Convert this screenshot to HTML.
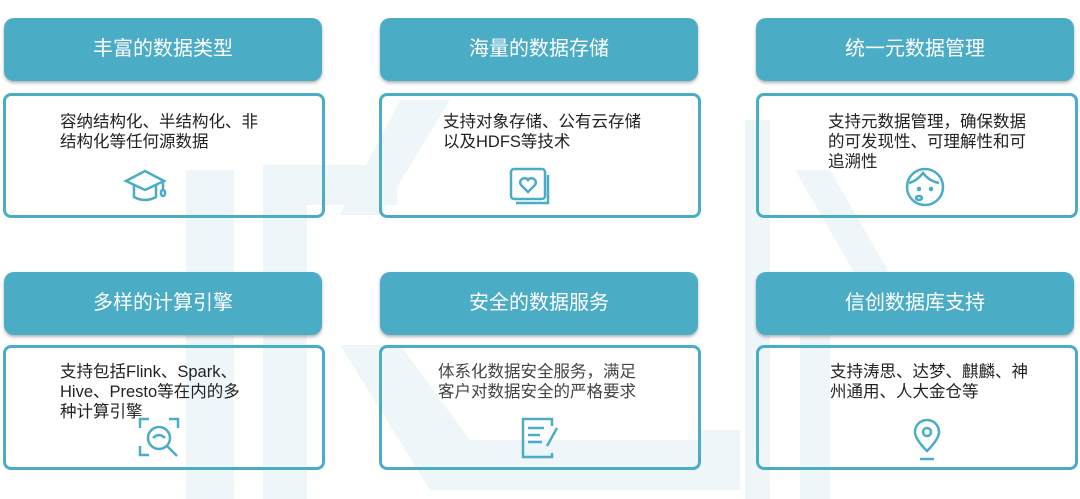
<!DOCTYPE html>
<html><head><meta charset="utf-8"><style>
body{margin:0;width:1080px;height:499px;background:#fff;position:relative;overflow:hidden;font-family:"Liberation Sans","Noto Sans CJK SC",sans-serif}
.wm{position:absolute;background:#eef6fa}
.h{position:absolute;width:318px;height:63px;background:#4BACC6;border-radius:10px;box-shadow:0 2px 3px rgba(0,0,0,.3);color:#fff;font-size:20px;text-align:center;line-height:63px}
.b{position:absolute;width:316px;height:119px;border:3px solid #4BACC6;border-radius:8px}
.t{position:absolute;font-size:16.5px;line-height:20px;color:#222;white-space:nowrap}
svg{position:absolute}
</style></head><body>
<div class="wm" style="left:186px;top:170px;width:48px;height:329px"></div>
<div class="wm" style="left:263px;top:165px;width:44px;height:334px"></div>
<div class="wm" style="left:307px;top:165px;width:90px;height:40px"></div>
<svg width="1080" height="499" style="left:0;top:0"><polygon points="340,215 400,100 450,100 380,215" fill="#eef6fa"/><polygon points="340,345 400,345 470,440 700,440 700,490 430,490" fill="#eef6fa"/><polygon points="700,430 740,430 740,490 700,490" fill="#eef6fa"/><polygon points="795,170 830,170 905,300 870,300" fill="#eef6fa"/><rect x="745" y="120" width="25" height="379" fill="#eef6fa"/><rect x="800" y="280" width="30" height="219" fill="#eef6fa"/></svg>

<div class="h" style="left:4px;top:18px">丰富的数据类型</div>
<div class="h" style="left:380px;top:18px">海量的数据存储</div>
<div class="h" style="left:756px;top:18px">统一元数据管理</div>
<div class="h" style="left:4px;top:272px">多样的计算引擎</div>
<div class="h" style="left:380px;top:272px">安全的数据服务</div>
<div class="h" style="left:756px;top:272px">信创数据库支持</div>

<div class="b" style="left:3px;top:93px"></div>
<div class="b" style="left:379px;top:93px"></div>
<div class="b" style="left:756px;top:93px"></div>
<div class="b" style="left:3px;top:345px"></div>
<div class="b" style="left:379px;top:345px"></div>
<div class="b" style="left:756px;top:345px"></div>

<div class="t" style="left:60px;top:112px">容纳结构化、半结构化、非<br>结构化等任何源数据</div>
<div class="t" style="left:443px;top:112px">支持对象存储、公有云存储<br>以及HDFS等技术</div>
<div class="t" style="left:828px;top:112px">支持元数据管理，确保数据<br>的可发现性、可理解性和可<br>追溯性</div>
<div class="t" style="left:60px;top:362px">支持包括Flink、Spark、<br>Hive、Presto等在内的多<br>种计算引擎</div>
<div class="t" style="left:438px;top:362px;color:#444">体系化数据安全服务，满足<br>客户对数据安全的严格要求</div>
<div class="t" style="left:830px;top:362px">支持涛思、达梦、麒麟、神<br>州通用、人大金仓等</div>

<svg width="50" height="40" style="left:123px;top:168px" fill="none" stroke="#4BACC6" stroke-width="2.5"><polygon points="3,13 22,3 41,13 22,22"/><path d="M11,17 v12 q11,6 22,0 v-12"/><path d="M40,14 v8"/><rect x="38" y="22" width="4" height="6" rx="2"/></svg>
<svg width="46" height="42" style="left:508px;top:166px" fill="none" stroke="#4BACC6" stroke-width="2.5"><rect x="3" y="3" width="34" height="30" rx="3"/><path d="M8,37 h32 v-28"/><path d="M20,26 l-7,-7 a4,4 0 0 1 7,-5 a4,4 0 0 1 7,5 z"/></svg>
<svg width="44" height="44" style="left:903px;top:165px" fill="none" stroke="#4BACC6" stroke-width="2.5"><circle cx="22" cy="22" r="18"/><path d="M6,18 q8,-2 14,-10 q6,8 16,10"/><circle cx="16" cy="24" r="1" fill="#4BACC6"/><circle cx="28" cy="24" r="1" fill="#4BACC6"/><ellipse cx="16" cy="33" rx="3" ry="2"/></svg>
<svg width="48" height="48" style="left:137px;top:416px" fill="none" stroke="#4BACC6" stroke-width="2.5"><path d="M3,12 v-9 h9 M32,3 h9 v9 M3,30 v9 h9"/><circle cx="22" cy="22" r="11"/><path d="M30,30 l10,10"/><path d="M16,22 q6,-6 12,0"/></svg>
<svg width="44" height="46" style="left:519px;top:416px" fill="none" stroke="#4BACC6" stroke-width="2.5"><path d="M33,10 v-7 h-29 v38 h29 v-4"/><path d="M9,12 h16 M9,19 h12 M9,26 h14"/><path d="M38,12 l-10,18"/></svg>
<svg width="30" height="46" style="left:912px;top:418px" fill="none" stroke="#4BACC6" stroke-width="2.5"><path d="M15,33 q-12,-12 -12,-19 a12,12 0 0 1 24,0 q0,7 -12,19 z"/><circle cx="15" cy="14" r="4"/><path d="M8,41 h14"/></svg>
</body></html>
